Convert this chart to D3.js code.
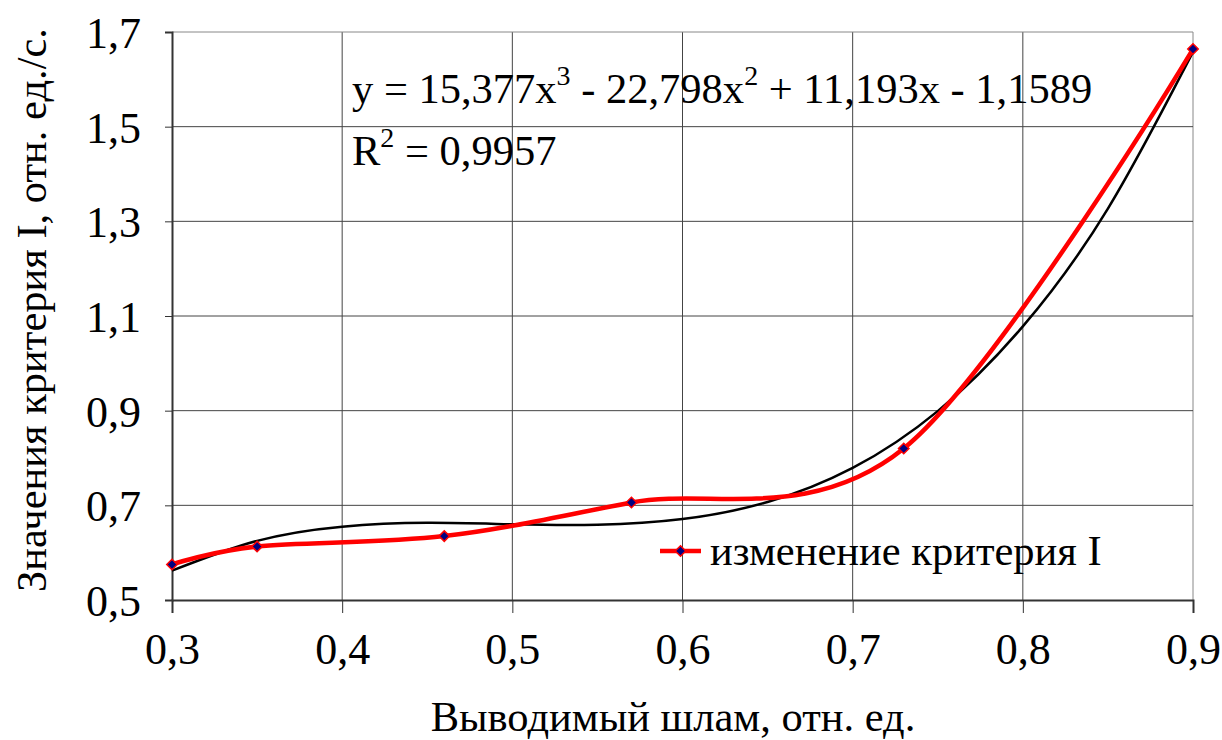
<!DOCTYPE html>
<html>
<head>
<meta charset="utf-8">
<script src="https://cdn.jsdelivr.net/npm/d3@7"></script>
<style>
  body { margin: 0; background: #fff; }
  svg text { font-family: "Times New Roman", "Liberation Serif", "DejaVu Serif", serif; fill: #000; }
</style>
</head>
<body>
<div id="chart"></div>
<script>
// measured points
var xValues = [0.3, 0.35, 0.46, 0.57, 0.73, 0.9];
var yValues = [0.575, 0.613, 0.635, 0.706, 0.82, 1.664];

// polynomial trendline
var trendX = [0.3, 0.35, 0.4, 0.45, 0.5, 0.55, 0.6, 0.65, 0.7, 0.75, 0.8, 0.85, 0.9];
var trendY = [0.562, 0.625, 0.655, 0.663, 0.660, 0.659, 0.671, 0.707, 0.779, 0.899, 1.078, 1.327, 1.658];

var xTicks = [0.3, 0.4, 0.5, 0.6, 0.7, 0.8, 0.9];
var yTicks = [0.5, 0.7, 0.9, 1.1, 1.3, 1.5, 1.7];

var width = 1222, height = 740;
var margin = { top: 32, right: 29, bottom: 140, left: 172 };
var serif = "'Times New Roman', 'Liberation Serif', serif";
var fs = 42.5;

var svg = d3.select("#chart").append("svg")
    .attr("width", width)
    .attr("height", height)
    .style("font-family", serif);

var x = d3.scaleLinear().domain([0.3, 0.9]).range([margin.left, width - margin.right]);
var y = d3.scaleLinear().domain([0.5, 1.7]).range([height - margin.bottom, margin.top]);

var fmt = function (d) { return d3.format(".1f")(d).replace(".", ","); };

// gridlines
svg.append("g").selectAll("line.vg")
    .data(xTicks.slice(1))
    .enter().append("line")
    .attr("x1", function (d) { return x(d); })
    .attr("x2", function (d) { return x(d); })
    .attr("y1", y(1.7)).attr("y2", y(0.5))
    .attr("stroke", function (d) { return d === 0.9 ? "#888" : "#444"; })
    .attr("stroke-width", 1);

svg.append("g").selectAll("line.hg")
    .data(yTicks.slice(1))
    .enter().append("line")
    .attr("x1", x(0.3)).attr("x2", x(0.9))
    .attr("y1", function (d) { return y(d); })
    .attr("y2", function (d) { return y(d); })
    .attr("stroke", function (d) { return d === 1.7 ? "#888" : "#444"; })
    .attr("stroke-width", 1);

// axes
var xAxis = svg.append("g")
    .attr("transform", "translate(0," + y(0.5) + ")")
    .call(d3.axisBottom(x).tickValues(xTicks).tickFormat(fmt).tickSize(13).tickPadding(20));

var yAxis = svg.append("g")
    .attr("transform", "translate(" + x(0.3) + ",0)")
    .call(d3.axisLeft(y).tickValues(yTicks).tickFormat(fmt).tickSize(7).tickPadding(24));

[xAxis, yAxis].forEach(function (g) {
    g.attr("font-family", serif).attr("font-size", 44);
    g.select(".domain").attr("stroke", "#333").attr("stroke-width", 2);
    g.selectAll(".tick line").attr("stroke", "#333").attr("stroke-width", 1);
    g.selectAll(".tick text").attr("fill", "#000");
});
yAxis.selectAll(".tick text").attr("dy", "0.35em");

// trendline
var trendLine = d3.line()
    .x(function (d) { return x(d[0]); })
    .y(function (d) { return y(d[1]); })
    .curve(d3.curveNatural);

svg.append("path")
    .datum(d3.zip(trendX, trendY))
    .attr("d", trendLine)
    .attr("fill", "none")
    .attr("stroke", "#000")
    .attr("stroke-width", 2.5);

// smoothed data line
var dataLine = d3.line()
    .x(function (d) { return x(d[0]); })
    .y(function (d) { return y(d[1]); })
    .curve(d3.curveCardinal.tension(0));

var points = d3.zip(xValues, yValues);

svg.append("path")
    .datum(points)
    .attr("d", dataLine)
    .attr("fill", "none")
    .attr("stroke", "#ff0000")
    .attr("stroke-width", 4.5);

var diamond = d3.symbol().type(d3.symbolDiamond2).size(70);

svg.append("g").selectAll("path.pt")
    .data(points)
    .enter().append("path")
    .attr("transform", function (d) { return "translate(" + x(d[0]) + "," + y(d[1]) + ")"; })
    .attr("d", diamond)
    .attr("fill", "#000080")
    .attr("stroke", "#ff0000")
    .attr("stroke-width", 1.5);

// equation label
var eq = svg.append("text")
    .attr("x", 352).attr("y", 103)
    .attr("font-size", fs);
eq.append("tspan").text("y = 15,377x");
eq.append("tspan").attr("dy", -18).attr("font-size", 28).text("3");
eq.append("tspan").attr("dy", 18).text(" - 22,798x");
eq.append("tspan").attr("dy", -18).attr("font-size", 28).text("2");
eq.append("tspan").attr("dy", 18).text(" + 11,193x - 1,1589");

var r2 = svg.append("text")
    .attr("x", 352).attr("y", 165)
    .attr("font-size", fs);
r2.append("tspan").text("R");
r2.append("tspan").attr("dy", -18).attr("font-size", 28).text("2");
r2.append("tspan").attr("dy", 18).text(" = 0,9957");

// legend
var lg = svg.append("g").attr("transform", "translate(660,551)");
lg.append("line").attr("x1", 0).attr("x2", 41).attr("y1", 0).attr("y2", 0)
    .attr("stroke", "#ff0000").attr("stroke-width", 4.5);
lg.append("path").attr("transform", "translate(20.5,0)").attr("d", diamond)
    .attr("fill", "#000080").attr("stroke", "#ff0000").attr("stroke-width", 1.5);
lg.append("text").attr("x", 50).attr("y", 14)
    .attr("font-size", fs)
    .text("изменение критерия I");

// axis titles
svg.append("text")
    .attr("x", 673).attr("y", 731)
    .attr("text-anchor", "middle")
    .attr("font-size", fs)
    .text("Выводимый шлам, отн. ед.");

svg.append("text")
    .attr("transform", "translate(46," + 310 + ") rotate(-90)")
    .attr("text-anchor", "middle")
    .attr("font-size", fs)
    .text("Значения критерия I, отн. ед./с.");
</script>
</body>
</html>
